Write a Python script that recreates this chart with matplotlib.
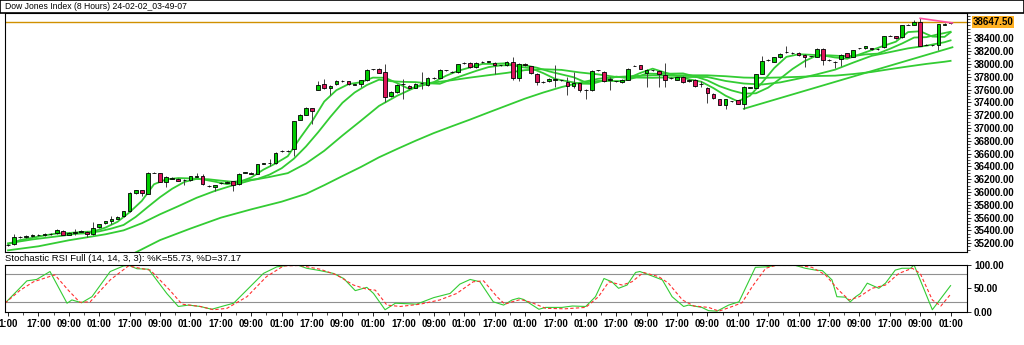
import numpy as np
import matplotlib
matplotlib.use('Agg')
import matplotlib.pyplot as plt
from matplotlib.patches import Rectangle

plt.rcParams['font.family'] = ['Liberation Sans', 'DejaVu Sans']

# candles (8 hour bars)
opens = [35170, 35185, 35300, 35305, 35310, 35335, 35325, 35340, 35360, 35395,
         35335, 35360, 35380, 35375, 35345, 35455, 35510, 35550, 35585, 35620,
         35700, 35985, 36025, 35975, 36305, 36290, 36160, 36210, 36205, 36185,
         36185, 36240, 36250, 36095, 36080, 36140, 36145, 36170, 36120, 36305,
         36300, 36285, 36445, 36450, 36455, 36640, 36640, 36665, 37130, 37210,
         37305, 37600, 37680, 37630, 37680, 37730, 37730, 37675, 37680, 37745,
         37915, 37925, 37880, 37495, 37560, 37690, 37655, 37630, 37695, 37670,
         37780, 37785, 37900, 37875, 37875, 38015, 38015, 37945, 38030, 38035,
         38015, 37980, 37980, 38030, 37785, 38000, 37965, 37850, 37720, 37730,
         37755, 37745, 37720, 37655, 37695, 37590, 37590, 37900, 37875, 37755,
         37730, 37720, 37755, 37970, 37980, 37860, 37900, 37890, 37825, 37780,
         37755, 37795, 37730, 37755, 37690, 37630, 37535, 37450, 37365, 37415,
         37430, 37370, 37630, 37630, 37850, 38060, 38035, 38105, 38180, 38170,
         38170, 38140, 38120, 38115, 38235, 38060, 38030, 38080, 38165, 38115,
         38245, 38245, 38245, 38235, 38260, 38440, 38430, 38415, 38610, 38615,
         38660, 38300, 38290, 38295, 38615, 38640]
closes = [35175, 35300, 35305, 35310, 35335, 35325, 35340, 35350, 35415, 35335,
          35360, 35380, 35390, 35350, 35440, 35495, 35545, 35585, 35610, 35700,
          35985, 36025, 35990, 36305, 36300, 36160, 36235, 36215, 36180, 36190,
          36245, 36245, 36130, 36090, 36105, 36140, 36150, 36115, 36280, 36305,
          36285, 36435, 36445, 36455, 36610, 36640, 36645, 37105, 37200, 37305,
          37260, 37675, 37625, 37655, 37735, 37730, 37680, 37680, 37745, 37910,
          37915, 37865, 37485, 37560, 37675, 37690, 37625, 37690, 37695, 37785,
          37780, 37910, 37900, 37875, 37995, 38015, 37945, 38015, 38030, 38035,
          37980, 37980, 38030, 37785, 38005, 37980, 37860, 37720, 37720, 37770,
          37755, 37745, 37655, 37710, 37600, 37590, 37890, 37900, 37735, 37755,
          37730, 37750, 37925, 37970, 37925, 37910, 37900, 37840, 37755, 37780,
          37790, 37720, 37755, 37655, 37690, 37545, 37470, 37365, 37450, 37415,
          37380, 37640, 37630, 37840, 38045, 38060, 38105, 38160, 38180, 38170,
          38140, 38105, 38120, 38235, 38060, 38060, 38030, 38140, 38115, 38210,
          38245, 38275, 38230, 38235, 38430, 38440, 38400, 38605, 38610, 38650,
          38285, 38300, 38290, 38620, 38615, 38647.5]
highs = [35185, 35340, 35320, 35325, 35350, 35345, 35355, 35365, 35425, 35405,
         35370, 35420, 35405, 35390, 35530, 35505, 35555, 35620, 35620, 35710,
         35995, 36035, 36035, 36315, 36315, 36300, 36245, 36230, 36215, 36200,
         36255, 36290, 36280, 36105, 36115, 36150, 36165, 36180, 36290, 36315,
         36310, 36445, 36455, 36520, 36620, 36650, 36655, 37115, 37215, 37320,
         37315, 37740, 37760, 37670, 37745, 37745, 37740, 37690, 37755, 37920,
         37925, 37935, 38005, 37570, 37685, 37770, 37665, 37700, 37875, 37795,
         37790, 37920, 37910, 37885, 38005, 38025, 38025, 38025, 38045, 38050,
         38025, 37990, 38040, 38110, 38015, 38010, 37975, 37860, 37730, 37780,
         37980, 37755, 37795, 37870, 37705, 37615, 37900, 37910, 37885, 37795,
         37740, 37760, 37935, 37980, 37990, 37920, 37910, 37900, 38015, 37790,
         37800, 37805, 37765, 37765, 37740, 37640, 37545, 37460, 37460, 37425,
         37440, 37650, 37640, 37850, 38120, 38070, 38115, 38170, 38285, 38180,
         38180, 38150, 38130, 38245, 38245, 38070, 38040, 38150, 38175, 38220,
         38255, 38285, 38255, 38245, 38440, 38450, 38440, 38615, 38620, 38680,
         38710, 38310, 38300, 38630, 38640, 38660]
lows = [35150, 35175, 35290, 35290, 35300, 35310, 35315, 35330, 35345, 35325,
        35325, 35330, 35370, 35300, 35335, 35445, 35500, 35500, 35575, 35610,
        35690, 35975, 35945, 35965, 36290, 36150, 36080, 36200, 36170, 36110,
        36175, 36230, 36110, 36080, 36020, 36130, 36135, 36020, 36110, 36290,
        36275, 36275, 36435, 36410, 36445, 36630, 36630, 36560, 37120, 37200,
        37060, 37590, 37615, 37510, 37670, 37720, 37670, 37665, 37640, 37735,
        37905, 37855, 37405, 37485, 37550, 37460, 37615, 37620, 37615, 37660,
        37770, 37775, 37890, 37865, 37865, 38005, 37935, 37935, 38020, 38025,
        37840, 37970, 37970, 37745, 37730, 37970, 37850, 37670, 37710, 37720,
        37640, 37735, 37510, 37620, 37560, 37460, 37580, 37890, 37725, 37600,
        37720, 37710, 37745, 37960, 37915, 37640, 37890, 37640, 37640, 37770,
        37745, 37710, 37720, 37645, 37640, 37390, 37460, 37355, 37300, 37405,
        37370, 37300, 37620, 37620, 37840, 38050, 38025, 38095, 38170, 38160,
        38130, 37950, 38110, 38105, 37980, 38050, 37930, 37960, 38105, 38105,
        38235, 38235, 38220, 38225, 38250, 38430, 38390, 38405, 38600, 38605,
        38275, 38290, 38280, 38210, 38605, 38630]

# moving average lines (sampled along the bars)
ma5_bars = [0, 2] + list(range(4, 155, 2)) + [155]
ma5_vals = [35185, 35250,
            35285, 35323, 35353, 35360, 35376, 35384, 35444, 35535, 35685, 35862,
            36121, 36198, 36218, 36213, 36198, 36163, 36123, 36158, 36227, 36350,
            36446, 36559, 36840, 37103, 37413, 37590, 37685, 37714, 37786, 37784,
            37700, 37607, 37675, 37715, 37814, 37892, 37946, 38000, 38001, 38011,
            37956, 37932, 37857, 37765, 37729, 37693, 37689, 37743, 37802, 37779,
            37860, 37926, 37866, 37813, 37760, 37722, 37623, 37504, 37416, 37503,
            37707, 37936, 38110, 38151, 38143, 38132, 38101, 38081, 38148, 38215,
            38283, 38347, 38497, 38510, 38427, 38422,
            38493]
ma10_bars = [0, 4] + list(range(9, 156, 2))
ma10_vals = [35200, 35260,
             35319, 35346, 35358, 35386, 35430, 35486, 35612, 35768, 35920, 36052,
             36158, 36206, 36199, 36178, 36159, 36180, 36204, 36272, 36372, 36520,
             36712, 36934, 37172, 37394, 37554, 37670, 37754, 37730, 37720, 37716,
             37698, 37690, 37762, 37827, 37892, 37950, 37977, 37981, 37978, 37940,
             37883, 37837, 37792, 37712, 37734, 37734, 37732, 37784, 37849, 37844,
             37848, 37852, 37803, 37743, 37652, 37586, 37536, 37542, 37630, 37772,
             37921, 38044, 38132, 38134, 38124, 38122, 38149, 38160, 38235, 38318,
             38412, 38418, 38463, 38502]
ma20_bars = [0, 5, 10, 16] + list(range(19, 155, 3)) + [155]
ma20_vals = [35090, 35153, 35247, 35340,
             35402, 35513, 35653, 35779, 35910, 36017, 36106, 36184, 36235, 36295,
             36446, 36644, 36883, 37111, 37344, 37504, 37635, 37710, 37746, 37787,
             37824, 37860, 37903, 37917, 37907, 37867, 37837, 37796, 37788, 37783,
             37791, 37796, 37796, 37734, 37694, 37679, 37712, 37771, 37837, 37910,
             38021, 38126, 38184, 38243, 38284, 38339,
             38368]
ma50_bars = [20, 25, 30, 35, 40, 45] + list(range(49, 155, 3)) + [155]
ma50_vals = [35010, 35250, 35430, 35600, 35730, 35850,
             35971, 36107, 36250, 36390, 36542, 36673, 36800, 36920, 37027, 37132,
             37242, 37350, 37458, 37553, 37638, 37707, 37767, 37796, 37810, 37822,
             37823, 37823, 37822, 37808, 37787, 37782, 37789, 37798, 37811, 37817,
             37842, 37874, 37918, 37960, 38000, 38034,
             38048]
trend_bars = [121, 155.3]
trend_vals = [37300, 38260]
pink_bars = [150, 155.3]
pink_vals = [38712, 38640]
last_price = 38647.5

# stochastic RSI
k_bars = [-0.5, 3.1, 4.7, 6.9, 9.7, 10.5, 12.1, 13.8, 16.8, 19, 19.9, 21.2, 23.1, 26.1, 28, 29.7,
          31.6, 33.5, 35.4, 37.1, 42, 44.2, 46.4, 47.8, 49.1, 51.3, 53.5, 55.2, 57.1, 59, 60.1, 62,
          63.7, 67.2, 70, 72.7, 74.3, 76, 77.6, 79.8, 81.5, 82.9, 84, 84.8, 87.3, 88.4, 91.1, 92.8,
          95, 96.6, 98, 99.3, 100.4, 101.8, 103.2, 103.9, 105.4, 107.6, 109.2, 111.1, 111.9, 114.1,
          115.2, 116.6, 118.5, 120.2, 122.9, 124.6, 126.2, 129.5, 131.1, 132.8, 133.9, 135.5, 136.3,
          137.7, 138.5, 139.4, 140.2, 141.3, 143.2, 144.3, 145.9, 147, 148.4, 149, 152, 155]
k_vals = [18, 66, 69, 86, 18, 25, 19, 32, 86, 98, 99, 92, 91, 39, 11, 14,
          11, 5, 12, 18, 82, 96, 100, 99, 93, 88, 82, 71, 45, 52, 39, 4,
          18, 16, 30, 39, 59, 69, 64, 21, 14, 25, 29, 26, 5, 9, 9, 12,
          11, 32, 71, 64, 50, 57, 84, 86, 79, 68, 32, 11, 14, 9,
          2, 1, 14, 21, 95, 96, 99, 99, 93, 89, 88, 68, 32,
          31, 21, 32, 39, 61, 50, 61, 89, 93, 93, 100, 4, 55.73]
d_bars = [-0.5, 2, 4.2, 7.7, 9.9, 11.8, 13.5, 16.8, 19.8, 21.7, 23.4, 26.6, 28.6, 31.6, 33.8, 36,
          39.3, 42.5, 45.3, 48, 51.3, 54, 56.8, 59, 60.4, 62.3, 64.5, 67.8, 71, 73.8, 76.5, 78.2,
          80.4, 81.7, 82.9, 84.3, 86.2, 88.4, 91.6, 95, 97.1, 98.8, 101, 102.6, 104.5, 107, 108.6,
          110.9, 112.8, 115.2, 116.9, 119.1, 120.7, 122.4, 124.6, 126.2, 130, 132.2, 134.4, 136.6,
          138.3, 140, 142.1, 144.3, 146.5, 148.7, 150, 152, 153.4, 155]
d_vals = [18, 46, 64, 79, 46, 20, 21, 68, 98, 93, 89, 46, 16, 11, 4, 7,
          32, 75, 98, 99, 91, 79, 57, 48, 46, 14, 11, 16, 25, 39, 64, 66,
          32, 16, 21, 26, 19, 7, 6, 9, 32, 64, 57, 64, 84, 75, 61,
          25, 12, 9, 1, 11, 19, 54, 93, 99, 99, 95, 79, 46,
          25, 32, 50, 57, 82, 93, 82, 25, 12, 37.17]

tick_pos = list(range(0, 156, 5))
tick_labels = ['1:00', '17:00', '09:00', '01:00', '17:00', '09:00', '01:00', '17:00',
               '09:00', '01:00', '17:00', '09:00', '01:00', '17:00', '09:00', '01:00',
               '17:00', '01:00', '17:00', '01:00', '17:00', '09:00', '17:00', '09:00',
               '01:00', '17:00', '01:00', '17:00', '09:00', '17:00', '09:00', '01:00']

W, H = 1024, 345
fig = plt.figure(figsize=(W / 100, H / 100), dpi=100)
fig.patches.append(Rectangle((0, 1 - 12.7 / H), 1, 12.7 / H, transform=fig.transFigure,
                             facecolor='white', edgecolor='black', lw=1.2))
fig.text(5 / W, 1 - 6.5 / H, 'Dow Jones Index (8 Hours) 24-02-02_03-49-07', fontsize=6.2, va='center')

# price panel
ax = fig.add_axes([5 / W, 1 - 252 / H, 962 / W, 239 / H])
green, red, ma_col = '#00CC00', '#DC145A', '#33CC33'
for xs, ys in [(ma5_bars, ma5_vals), (ma10_bars, ma10_vals), (ma20_bars, ma20_vals),
               (ma50_bars, ma50_vals), (trend_bars, trend_vals)]:
    ax.plot(xs, ys, color=ma_col, lw=1.3, zorder=1)

for i in range(len(closes)):
    o, h, l, c = opens[i], highs[i], lows[i], closes[i]
    ax.vlines(i, l, h, color='#404040', lw=0.7, zorder=2)
    ax.add_patch(Rectangle((i - 0.3, min(o, c)), 0.6, max(abs(c - o), 3),
                           facecolor=green if c >= o else red, edgecolor='black', lw=0.6, zorder=3))

ax.axhline(last_price, color='#D09000', lw=1, zorder=1)
ax.plot(pink_bars, pink_vals, color='#FF4FA0', lw=1.2, zorder=4)
ax.set_xlim(-0.5, 157.7)
ax.set_ylim(35064, 38795)
ax.yaxis.tick_right()
ax.set_yticks(np.arange(35200, 38401, 200))
ax.set_yticks(np.arange(35100, 38751, 50), minor=True)
ax.set_yticklabels([f'{v:.2f}' for v in np.arange(35200, 38401, 200)], fontsize=7, fontweight='bold')
ax.tick_params(axis='y', length=3, width=0.6, pad=2)
ax.tick_params(axis='y', which='minor', length=2, width=0.5)
ax.set_xticks([])
ax.text(1.006, last_price, f'{last_price:.2f}', transform=ax.get_yaxis_transform(), va='center', ha='left',
        fontsize=7, fontweight='bold', bbox=dict(boxstyle='square,pad=0.1', fc='#FFB020', ec='none'))

# stochastic RSI panel
fig.text(5 / W, 1 - 258.5 / H, 'Stochastic RSI Full (14, 14, 3, 3): %K=55.73, %D=37.17', fontsize=6.8, va='center')
ax2 = fig.add_axes([5 / W, 1 - 311.6 / H, 962 / W, 46.6 / H])
ax2.axhline(80, color='#909090', lw=0.8)
ax2.axhline(20, color='#909090', lw=0.8)
ax2.plot(k_bars, k_vals, color='#33CC33', lw=0.8)
ax2.plot(d_bars, d_vals, color='#FF3030', lw=0.8, ls=(0, (3, 2)))
ax2.set_xlim(-0.5, 157.7)
ax2.set_ylim(0, 100)
ax2.yaxis.tick_right()
ax2.set_yticks([0, 50, 100])
ax2.set_yticklabels(['0.00', '50.00', '100.00'], fontsize=7, fontweight='bold')
ax2.set_xticks(tick_pos)
ax2.set_xticklabels(tick_labels, fontsize=7, fontweight='bold')
ax2.set_xticks(np.arange(2.5, 156, 5), minor=True)
ax2.tick_params(axis='both', length=3, width=0.6, pad=2)
ax2.tick_params(axis='x', which='minor', length=2, width=0.5)

fig.savefig('out.png', dpi=100)
